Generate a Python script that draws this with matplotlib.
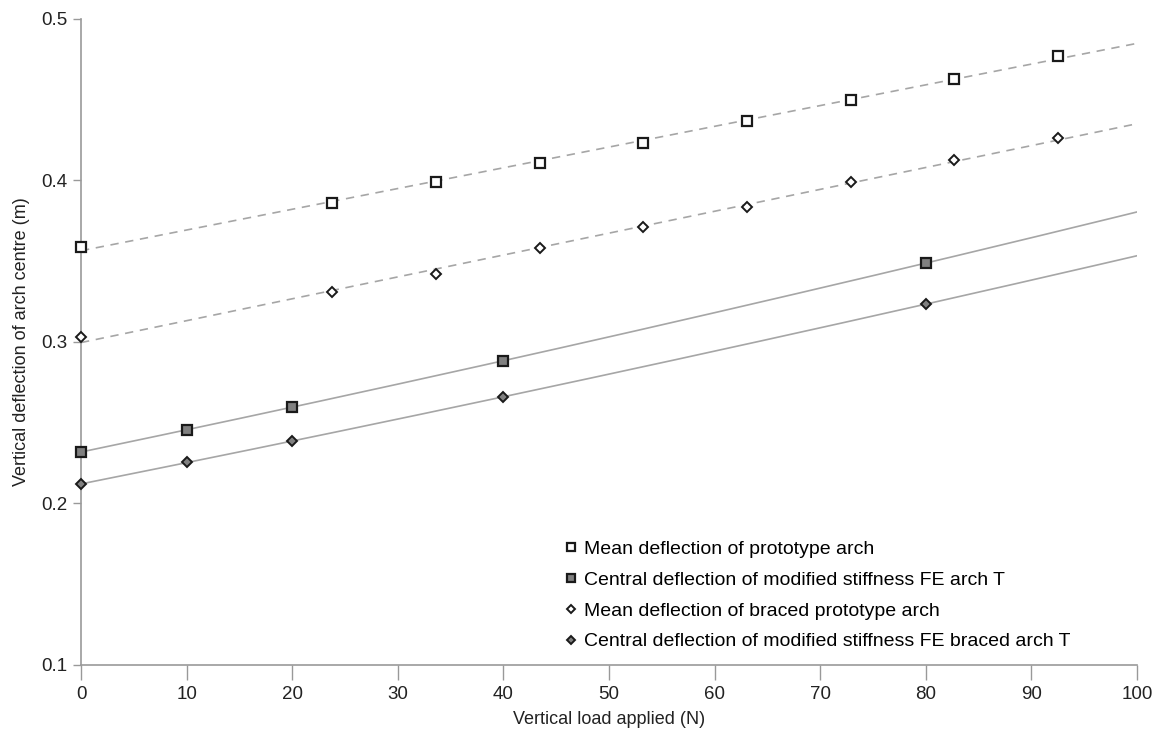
import matplotlib
matplotlib.use("Agg")
import matplotlib.pyplot as plt
import numpy as np

plt.rcParams["font.family"] = ["Liberation Sans", "DejaVu Sans"]

# --- data -----------------------------------------------------------------
load_proto = [0, 23.8, 33.6, 43.5, 53.2, 63.1, 72.9, 82.7, 92.5]
mean_proto = [0.359, 0.386, 0.399, 0.411, 0.4234, 0.437, 0.4497, 0.463, 0.4773]
mean_braced = [0.303, 0.331, 0.342, 0.358, 0.371, 0.3835, 0.3993, 0.4125, 0.4265]

load_fe = [0, 10, 20, 40, 80]
fe_arch = [0.2318, 0.2456, 0.2597, 0.2883, 0.3488]
fe_braced = [0.212, 0.2254, 0.2386, 0.266, 0.3234]

C_LINE = "#a6a6a6"
C_FILL = "#808080"

fig = plt.figure(figsize=(11.59, 7.40), dpi=100)
ax = fig.add_axes([0.0699, 0.1014, 0.9111, 0.8731])

xfit = np.linspace(0, 100, 200)
# trendlines (excel-style): linear for the test data, quadratic for FE runs
for x, y, deg, ls in [(load_proto, mean_proto, 1, (0, (5, 4))),
                      (load_proto, mean_braced, 1, (0, (5, 4))),
                      (load_fe, fe_arch, 2, "-"),
                      (load_fe, fe_braced, 2, "-")]:
    p = np.polyfit(x, y, deg)
    ax.plot(xfit, np.polyval(p, xfit), color=C_LINE, lw=1.2, ls=ls, zorder=1)

mk = dict(ls="none", markeredgecolor="#1a1a1a", zorder=3, clip_on=False)
ax.plot(load_proto, mean_proto, marker="s", ms=6.5, mew=1.6, mfc="white",
        label="Mean deflection of prototype arch", **mk)
ax.plot(load_fe, fe_arch, marker="s", ms=6.5, mew=1.6, mfc=C_FILL,
        label="Central deflection of modified stiffness FE arch T", **mk)
ax.plot(load_proto, mean_braced, marker="D", ms=4.6, mew=1.4, mfc="white",
        label="Mean deflection of braced prototype arch", **mk)
ax.plot(load_fe, fe_braced, marker="D", ms=4.6, mew=1.4, mfc=C_FILL,
        label="Central deflection of modified stiffness FE braced arch T", **mk)

ax.set_xlim(0, 100)
ax.set_ylim(0.1, 0.5)
ax.set_xticks(range(0, 101, 10))
ax.set_yticks([0.1, 0.2, 0.3, 0.4, 0.5])
ax.set_yticklabels(["0.1", "0.2", "0.3", "0.4", "0.5"])

for s in ["top", "right"]:
    ax.spines[s].set_visible(False)
for s in ["left", "bottom"]:
    ax.spines[s].set_color("#999999")
    ax.spines[s].set_linewidth(1.2)
ax.tick_params(axis="both", colors="#999999", labelcolor="#222222",
               labelsize=13.5, length=6, width=1)
ax.tick_params(axis="x", length=11, pad=4)
ax.tick_params(axis="y", pad=4)

ax.set_xlabel("Vertical load applied (N)", fontsize=13, color="#222222", labelpad=6)
ax.set_ylabel("Vertical deflection of arch centre (m)", fontsize=13,
              color="#222222", labelpad=8)

ax.legend(loc="upper left", bbox_to_anchor=(0.452, 0.205), frameon=False,
          borderaxespad=0, fontsize=14, handlelength=0.5, handletextpad=0.4,
          labelspacing=0.68, markerscale=0.85)

fig.savefig("out.png", dpi=100)
